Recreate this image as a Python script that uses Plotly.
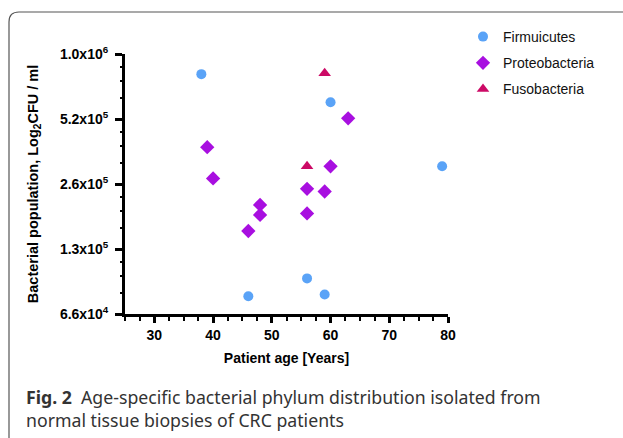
import math
import plotly.graph_objects as go

# ---------------- data ----------------
firm_age = [38, 60, 79, 56, 46, 59]
firm_cfu = [839000, 622000, 314000, 95000, 78600, 80000]

prot_age = [63, 39, 40, 60, 56, 59, 48, 48, 56, 46]
prot_cfu = [524000, 385000, 276000, 314000, 247000, 240000, 208000, 187000, 190000, 157500]

fuso_age = [59, 56]
fuso_cfu = [846000, 314000]

y_major = [65000, 130000, 260000, 520000, 1040000]
y_labels = ["6.6x10<sup>4</sup>", "1.3x10<sup>5</sup>", "2.6x10<sup>5</sup>",
            "5.2x10<sup>5</sup>", "1.0x10<sup>6</sup>"]
y_minor = [v * f for v in y_major[:-1] for f in (1.25, 1.5, 1.75)]
x_ticks = [30, 40, 50, 60, 70, 80]

# ---------------- layout helpers ----------------
W, H = 623, 438
L, R, T, B = 125, 448, 54, 314


def px(x):
    return (x - L) / (R - L)


def py(y):
    return (B - y) / (B - T)


yr = [math.log10(65000), math.log10(1040000)]
FONT = "Liberation Sans, Arial"

fig = go.Figure()
fig.add_trace(go.Scatter(x=firm_age, y=firm_cfu, mode="markers", name="Firmuicutes",
                         legendgroup="a",
                         marker=dict(symbol="circle", size=10, color="#5aa3f7")))
fig.add_trace(go.Scatter(x=prot_age, y=prot_cfu, mode="markers", name="Proteobacteria",
                         legendgroup="b",
                         marker=dict(symbol="diamond", size=11, color="#a80fe0")))
fig.add_trace(go.Scatter(x=fuso_age, y=fuso_cfu, mode="markers", name="Fusobacteria",
                         legendgroup="c",
                         marker=dict(symbol="triangle-up", size=11, color="#cc0a66")))

fig.update_layout(
    width=W, height=H,
    margin=dict(l=L, r=W - R, t=T, b=H - B),
    paper_bgcolor="white", plot_bgcolor="white",
    showlegend=True,
    legend=dict(x=px(463), y=py(21), xanchor="left", yanchor="top",
                font=dict(family=FONT, size=14, color="#111"),
                traceorder="grouped", tracegroupgap=5, bgcolor="rgba(0,0,0,0)"),
    xaxis=dict(range=[25, 80], tickvals=x_ticks, showgrid=False, zeroline=False,
               automargin=False,
               showline=True, linecolor="black", linewidth=3,
               ticks="outside", ticklen=6, tickwidth=2.5, tickcolor="black",
               tickfont=dict(family=FONT, size=14, color="black", weight="bold"),
               minor=dict(dtick=2.5, tick0=25, ticks="outside", ticklen=4, tickwidth=2, tickcolor="black"),
               title=dict(text="<b>Patient age [Years]</b>", standoff=12,
                          font=dict(family=FONT, size=14, color="black"))),
    yaxis=dict(type="log", range=yr, tickvals=y_major, ticktext=y_labels,
               showgrid=False, zeroline=False, automargin=False,
               showline=True, linecolor="black", linewidth=3,
               ticks="outside", ticklen=7, tickwidth=2.5, tickcolor="black",
               ticklabelstandoff=4,
               tickfont=dict(family=FONT, size=14, color="black", weight="bold"),
               title=dict(text="<b>Bacterial population, Log<sub>2</sub>CFU / ml</b>", standoff=18,
                          font=dict(family=FONT, size=14.5, color="black"))),
    yaxis2=dict(type="log", range=yr, overlaying="y", side="left", tickvals=y_minor,
                showticklabels=False, showgrid=False, zeroline=False, showline=False,
                automargin=False,
                ticks="outside", ticklen=4, tickwidth=2, tickcolor="black"),
)

# dummy trace to activate yaxis2
fig.add_trace(go.Scatter(x=[None], y=[None], yaxis="y2", showlegend=False, hoverinfo="skip"))

# frame (rounded card)
x0, y0 = px(9), py(12)
x1, y1 = px(660), py(470)
rx, ry = 10 / (R - L), 10 / (B - T)
fig.add_shape(type="path", xref="paper", yref="paper",
              path=f"M {x0},{y1} L {x0},{y0 - ry} Q {x0},{y0} {x0 + rx},{y0} L {x1},{y0}",
              line=dict(color="#555", width=1.2))

cap_font = dict(family="Noto Sans", size=17.7, color="#333")
fig.add_annotation(xref="paper", yref="paper", x=px(24), y=py(397), xanchor="left", yanchor="middle",
                   showarrow=False, font=cap_font,
                   text="<b>Fig. 2</b>  Age-specific bacterial phylum distribution isolated from")
fig.add_annotation(xref="paper", yref="paper", x=px(24), y=py(420), xanchor="left", yanchor="middle",
                   showarrow=False, font=cap_font,
                   text="normal tissue biopsies of CRC patients")

fig.write_html("out.html", config={"displayModeBar": False},
               post_script="document.body.style.margin='0';")
